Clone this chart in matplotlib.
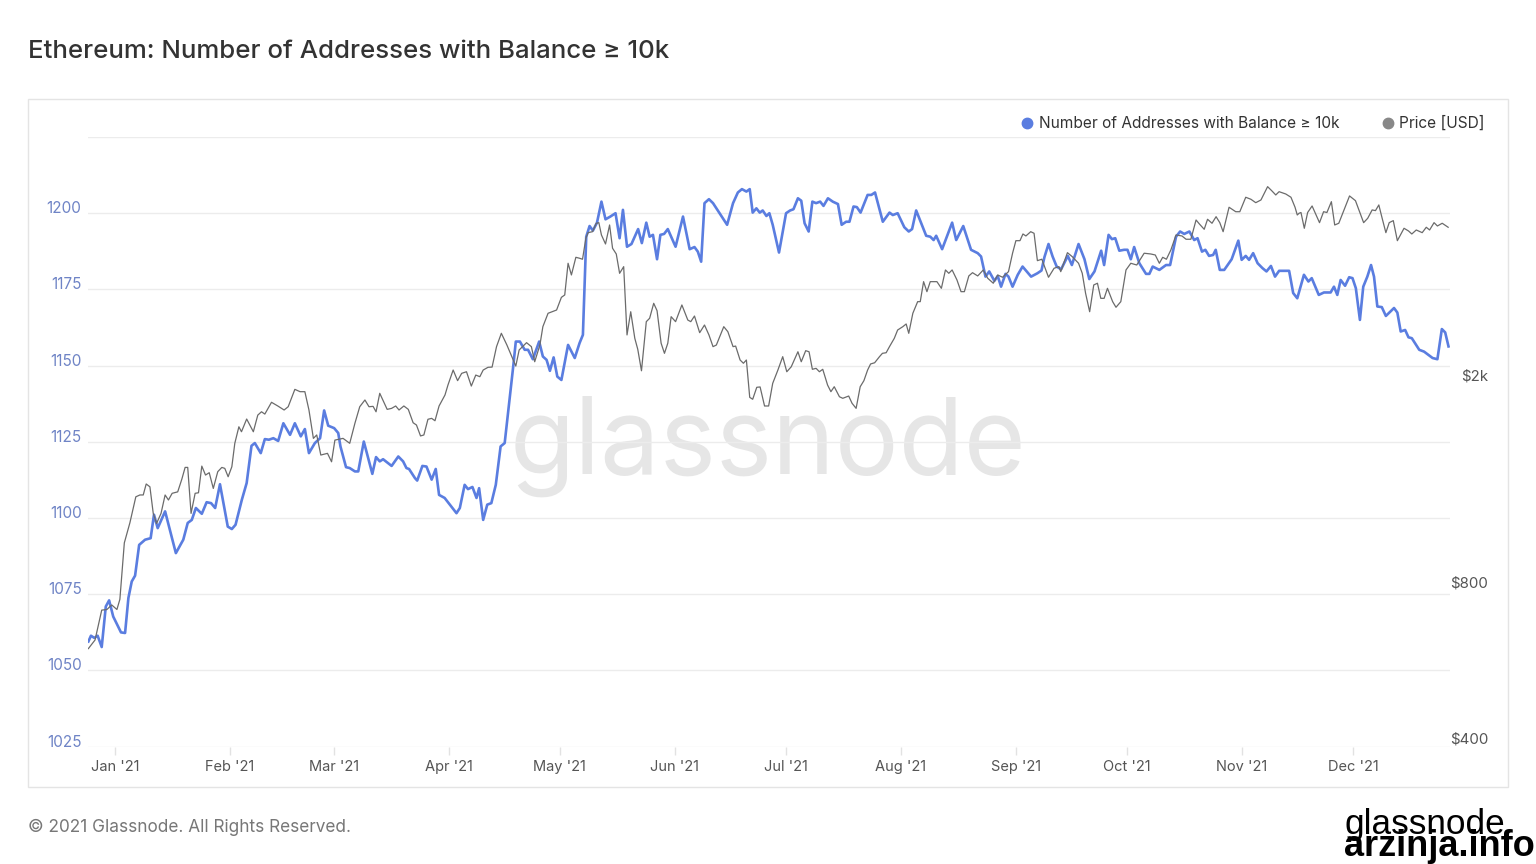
import numpy as np
import pandas as pd
import matplotlib
matplotlib.use('Agg')
import matplotlib.pyplot as plt
import matplotlib.dates as mdates
from matplotlib.lines import Line2D
from matplotlib.patches import Rectangle
from matplotlib.ticker import NullLocator

plt.rcParams['font.family'] = ['Inter', 'DejaVu Sans']

# --- data (days counted from 2021-01-01) ---
addr_days = [-7.2, -6.5, -5.6, -4.7, -3.6, -2.5, -1.6, -0.5, 1.6, 2.7, 3.6, 4.5, 5.4, 6.5, 8.1, 9.6, 10.5, 11.5, 13.5, 16.4,
             18.4, 19.6, 20.7, 21.8, 23.4, 24.7, 25.9, 27.0, 28.3, 30.4, 31.5, 32.5, 34.2, 35.5, 36.8, 37.7, 39.3, 40.4, 41.5, 42.7,
             44.0, 45.4, 47.2, 48.5, 50.1, 51.2, 52.3, 53.9, 55.3, 56.4, 57.5, 59.1,
             60.2, 60.8, 62.3, 63.3, 64.7, 65.6, 67.1, 69.4, 70.4, 71.4, 72.3, 74.6, 76.4, 77.7, 78.6, 79.3, 80.9, 81.5, 82.9, 84.0,
             85.4, 86.5, 87.4, 88.9, 92.1, 93.0, 94.3, 95.2, 96.4, 97.5, 98.2, 99.3, 100.4, 101.5, 102.7, 104.0, 105.1, 107.4, 108.1, 109.2,
             110.5, 111.4, 112.7, 114.4, 115.4, 116.4, 117.3, 118.3, 119.3, 120.4, 122.2, 124.0, 125.3,
             126.2, 127.1, 128.0, 128.9, 130.0, 131.2, 132.3, 133.6, 135.0, 136.1, 137.0, 138.1, 139.3, 141.1, 142.1, 143.3, 144.2, 145.1, 146.2, 147.1,
             148.1, 149.1, 151.2, 153.2, 155.0, 156.3, 157.2, 158.1, 159.0, 160.2, 161.3, 165.1, 166.7, 168.0, 169.1, 170.3, 171.2, 172.0, 173.0, 173.9,
             174.7, 175.7, 176.5, 177.4, 179.1, 181.0, 182.1, 183.0, 184.2, 185.1, 186.0, 187.1, 188.1, 189.1,
             190.2, 191.1, 192.3, 193.6, 195.0, 196.0, 197.2, 198.1, 199.2, 200.1, 201.1, 203.0, 204.0, 205.0, 207.1, 208.9, 209.8, 211.1, 212.9, 214.1,
             215.0, 216.1, 218.8, 219.9, 220.8, 221.5, 223.1, 225.8, 226.9, 228.8, 230.9, 232.7, 233.6, 234.8, 235.8, 237.2, 238.1, 239.0, 240.2, 241.0,
             242.1, 243.5, 244.8, 247.1, 248.8, 249.9, 250.7, 251.8, 252.9, 254.0,
             255.2, 257.0, 258.1, 259.9, 261.5, 262.8, 264.2, 266.0, 266.8, 268.0, 268.9, 269.8, 270.9, 272.2, 273.1, 274.0, 274.9, 276.3, 278.1, 279.0,
             279.9, 281.7, 283.5, 284.6, 286.2, 287.3, 288.4, 289.8, 291.1, 292.0, 293.2, 294.1, 295.1, 296.2, 296.9, 298.0, 299.2, 301.2, 303.0, 303.9,
             305.0, 305.9, 307.0, 308.2, 309.5, 310.6, 311.8, 312.9, 314.0, 316.7,
             317.8, 318.9, 320.7, 321.9, 322.8, 324.7, 326.1, 327.9, 328.8, 329.7, 330.6, 331.8, 332.9, 333.8, 334.7, 335.8, 336.7, 337.8, 338.8, 339.6,
             340.5, 341.7, 342.8, 345.0, 345.9, 346.8, 348.0, 348.9, 349.8, 351.8, 353.1, 355.4, 356.7, 357.9, 358.8, 359.7]
addr_count = [1059.5, 1061.4, 1060.7, 1061.4, 1057.7, 1071.0, 1073.0, 1067.7, 1062.5, 1062.3, 1073.8, 1079.2, 1081.1, 1091.2, 1092.9, 1093.4, 1101.1, 1096.7, 1102.2, 1088.5,
              1092.9, 1098.4, 1099.4, 1103.3, 1101.4, 1105.2, 1104.9, 1103.3, 1111.1, 1097.2, 1096.4, 1097.8, 1106.0, 1111.5, 1123.7, 1124.6, 1121.3, 1125.9, 1125.7, 1126.2,
              1125.3, 1131.1, 1127.3, 1131.1, 1126.8, 1129.2, 1121.3, 1124.6, 1126.2, 1135.3, 1130.3, 1129.5,
              1127.9, 1123.5, 1116.7, 1116.4, 1115.3, 1115.3, 1125.1, 1114.5, 1120.0, 1118.6, 1119.3, 1117.1, 1120.2, 1118.6, 1116.4, 1116.1, 1113.1, 1112.3, 1117.1, 1116.9,
              1112.6, 1116.1, 1107.6, 1106.6, 1101.6, 1103.3, 1110.9, 1109.5, 1110.2, 1106.6, 1109.8, 1099.4, 1104.4, 1104.9, 1110.9, 1123.5, 1124.6, 1149.7, 1157.9, 1157.9,
              1155.2, 1155.2, 1152.1, 1157.9, 1153.0, 1151.9, 1148.3, 1152.7, 1146.4, 1145.3, 1156.8, 1152.5, 1157.4,
              1160.1, 1192.3, 1195.8, 1194.3, 1196.9, 1203.8, 1198.0, 1198.9, 1200.0, 1191.8, 1201.1, 1189.0, 1189.9, 1194.8, 1190.2, 1196.9, 1192.3, 1192.9, 1184.9, 1192.9,
              1193.2, 1194.8, 1189.0, 1198.9, 1188.2, 1188.9, 1187.4, 1184.1, 1203.3, 1204.6, 1203.3, 1196.2, 1203.3, 1206.8, 1207.9, 1207.1, 1207.9, 1200.2, 1201.6, 1200.2,
              1200.9, 1199.1, 1200.0, 1196.2, 1187.1, 1200.0, 1200.9, 1201.3, 1204.9, 1204.1, 1196.7, 1194.0, 1203.8, 1203.3,
              1203.8, 1202.4, 1204.9, 1203.8, 1203.0, 1196.2, 1197.2, 1197.2, 1202.2, 1202.0, 1200.2, 1206.0, 1206.0, 1206.8, 1197.2, 1200.2, 1199.4, 1200.0, 1195.4, 1194.0,
              1194.8, 1200.9, 1192.6, 1192.3, 1191.2, 1192.6, 1188.2, 1196.9, 1191.2, 1195.8, 1188.0, 1186.9, 1185.8, 1179.2, 1180.9, 1177.8, 1179.4, 1175.9, 1180.1, 1179.2,
              1175.9, 1179.8, 1182.5, 1179.2, 1180.3, 1181.2, 1185.6, 1189.9, 1185.8, 1182.5,
              1181.6, 1186.0, 1183.0, 1189.9, 1184.9, 1178.4, 1180.9, 1187.7, 1183.0, 1192.9, 1191.5, 1191.8, 1187.7, 1188.0, 1188.0, 1184.9, 1188.9, 1183.6, 1180.1, 1180.1,
              1182.5, 1181.4, 1183.0, 1183.0, 1192.3, 1194.0, 1193.2, 1194.0, 1191.2, 1191.8, 1187.4, 1188.0, 1186.0, 1186.3, 1188.0, 1181.4, 1181.4, 1184.9, 1191.0, 1184.7,
              1186.0, 1184.7, 1186.9, 1183.6, 1182.0, 1180.9, 1182.7, 1179.2, 1181.1, 1181.1,
              1173.8, 1172.1, 1179.8, 1177.6, 1178.7, 1173.2, 1174.0, 1174.0, 1175.9, 1173.2, 1178.1, 1176.2, 1179.0, 1178.7, 1175.4, 1165.0, 1175.9, 1179.2, 1183.0, 1179.2,
              1169.4, 1169.2, 1166.3, 1168.9, 1167.4, 1161.2, 1161.7, 1159.3, 1159.0, 1155.2, 1154.6, 1152.5, 1152.1, 1162.0, 1160.9, 1156.3]

price_days = [-7.2, -5.4, -3.6, -2.2, -0.9, 0.5, 1.3, 2.5, 4.0, 5.6, 6.7, 7.6, 8.4, 9.4, 10.3, 11.2, 12.4, 13.5, 14.4, 15.4,
              16.9, 18.0, 18.9, 19.6, 20.5, 21.6, 22.5, 23.4, 24.4, 25.4, 26.5, 27.7, 28.8, 29.6, 30.5, 31.5, 32.3, 33.4, 34.1, 35.5,
              37.3, 38.5, 39.5, 40.4, 42.2, 43.9, 45.6, 46.7, 48.5, 49.9, 51.2, 52.3, 53.5, 54.4, 55.5, 57.3, 58.4, 59.3,
              61.5, 63.3, 64.7, 66.0, 67.4, 68.5, 69.6, 70.4, 71.4, 73.4, 74.6, 75.7, 76.6, 77.9, 79.1, 80.4, 81.3, 82.4, 83.3, 84.4,
              85.4, 86.3, 87.4, 89.0, 89.8, 91.2, 92.4, 93.5, 94.8, 96.1, 97.3, 98.4, 99.3, 100.6, 101.7, 102.9, 104.2, 105.7, 108.1, 109.0,
              111.0, 112.3, 113.2, 114.6, 115.4, 116.8, 119.1, 120.4, 121.3, 122.2, 123.1, 124.3, 125.3,
              126.1, 127.0, 127.6, 128.8, 129.8, 130.5, 131.2, 132.3, 133.4, 134.2, 135.2, 136.1, 137.2, 138.1, 139.1, 140.2, 141.0, 142.0, 143.3, 144.2,
              145.3, 146.2, 147.3, 148.2, 149.1, 150.0, 151.2, 152.9, 154.5, 155.3, 156.3, 157.7, 159.0, 160.2, 161.3, 162.2, 164.2, 165.3, 166.7, 167.4,
              168.6, 169.5, 170.3, 171.2, 172.0, 173.1, 174.0, 175.2, 176.3, 177.4, 178.8, 180.1, 181.2, 182.4, 184.2, 185.1, 186.3, 187.2, 188.1, 189.1,
              190.0,
              190.9, 192.2, 193.1, 194.0, 195.4, 196.3, 197.9, 198.8, 199.9, 201.0, 202.0, 203.0, 203.8, 204.9, 206.2, 207.0, 208.0, 208.9, 210.2, 211.1,
              212.5, 213.4, 214.1, 215.2, 216.5, 217.2, 218.1, 219.0, 219.9, 221.7, 222.9, 224.0, 224.9, 225.8, 227.1, 228.2, 229.1, 230.3, 231.3, 232.7,
              234.2, 235.4, 236.9, 238.1, 239.4, 241.0, 242.1, 243.0, 244.1, 244.9, 245.7, 247.0, 247.9, 248.8, 250.0, 251.8, 253.3, 254.6,
              255.1, 256.9, 258.2, 259.9, 260.9, 261.8, 262.9, 264.0, 265.0, 265.9, 266.8, 267.7, 269.1, 270.0, 271.3, 272.7, 274.0, 275.6, 277.6, 279.4,
              280.6, 281.7, 282.6, 283.6, 284.8, 286.2, 287.8, 288.9, 290.2, 291.6, 292.5, 293.8, 294.7, 295.9, 297.0, 298.0, 298.9, 300.5, 302.3, 303.4,
              305.0, 306.4, 307.7, 309.1, 310.9, 312.0, 313.1, 314.0, 315.8, 317.2, 318.3, 318.9, 319.4,
              319.9, 320.8, 321.7, 322.9, 324.9, 326.0, 326.9, 328.1, 329.0, 330.1, 333.0, 334.6, 336.8, 337.9, 339.1, 340.0, 340.9, 341.8, 342.8, 343.7,
              344.8, 345.9, 347.7, 348.9, 349.8, 351.0, 352.6, 353.7, 354.6, 355.8, 356.7, 358.0, 359.6]
price_usd = [617, 641, 732, 734, 749, 734, 768, 987, 1079, 1211, 1221, 1221, 1282, 1266, 1125, 1076, 1125, 1221, 1194, 1230,
             1238, 1309, 1380, 1380, 1125, 1230, 1233, 1388, 1334, 1348, 1257, 1354, 1380, 1374, 1324, 1384, 1536, 1653, 1617, 1711,
             1617, 1741, 1767, 1749, 1843, 1813, 1781, 1807, 1952, 1932, 1932, 1781, 1570, 1594, 1458, 1469, 1415, 1558,
             1570, 1536, 1679, 1807, 1862, 1807, 1810, 1767, 1918, 1786, 1794, 1813, 1781, 1813, 1786, 1683, 1666, 1587, 1594, 1709,
             1716, 1698, 1813, 1904, 1990, 2127, 2029, 2096, 2111, 1981, 2080, 2065, 2127, 2153, 2155, 2360, 2504, 2377, 2165, 2325,
             2402, 2360, 2207, 2377, 2579, 2737, 2777, 2938, 2969, 3418, 3245, 3510, 3495,
             3480, 3820, 3916, 3933, 4083, 4094, 3876, 3724, 4052, 3654, 3562, 3269, 3367, 2486, 2756, 2449, 2332, 2120, 2637, 2677,
             2861, 2769, 2396, 2291, 2396, 2696, 2637, 2840, 2656, 2637, 2704, 2511, 2598, 2486, 2360, 2377, 2579, 2522, 2360, 2366,
             2224, 2192, 2224, 1884, 1868, 1970, 1973, 1813, 1813, 2005, 2127, 2257, 2111, 2158, 2307, 2207, 2318, 2307, 2134, 2143,
             2111,
             2134, 1990, 1932, 1975, 1889, 1876, 1895, 1835, 1794, 1975, 2029, 2127, 2185, 2197, 2257, 2291, 2297, 2360, 2449, 2541,
             2579, 2610, 2504, 2737, 2882, 2882, 3150, 3013, 3150, 3150, 3058, 3318, 3269, 3318, 3174, 3013, 3013, 3231, 3278, 3231,
             3318, 3198, 3128, 3245, 3212, 3293, 3574, 3779, 3779, 3893, 3859, 3933, 3905, 3458, 3480, 3212, 3343, 3367,
             3293, 3583, 3520, 3418, 3269, 2991, 2756, 3104, 3128, 2925, 2925, 3058, 2882, 2811, 2882, 3318, 3418, 3392, 3574, 3562,
             3546, 3418, 3510, 3480, 3626, 3876, 3859, 3803, 3803, 4143, 4070, 3975, 4156, 4083, 4204, 4094, 3933, 4384, 4298, 4298,
             4583, 4542, 4474, 4528, 4804, 4719, 4630, 4698, 4650, 4583, 4384, 4236, 4269,
             4283, 3993, 4283, 4409, 4094, 4298, 4283, 4494, 4052, 4083, 4610, 4514, 4094, 4174, 4332, 4319, 4429, 4174, 3916, 4094,
             4131, 3779, 3993, 3946, 3893, 3963, 3916, 4011, 3963, 4094, 4034, 4083, 4011]

left_ticks = [1025, 1050, 1075, 1100, 1125, 1150, 1175, 1200, 1225]
left_labels = ['1025', '1050', '1075', '1100', '1125', '1150', '1175', '1200', '']
right_ticks = [400, 800, 2000]
right_labels = ['$400', '$800', '$2k']

title = 'Ethereum: Number of Addresses with Balance \u2265 10k'
series_names = ['Number of Addresses with Balance \u2265 10k', 'Price [USD]']

BLUE = '#5a7de0'
GREY = '#6b6b6b'

base = pd.Timestamp('2021-01-01')
addr_dates = base + pd.to_timedelta(addr_days, unit='D')
price_dates = base + pd.to_timedelta(price_days, unit='D')

W, H = 1536, 864
fig = plt.figure(figsize=(W / 100, H / 100), dpi=100)
fig.patch.set_facecolor('white')

# panel frame
fig.add_artist(Rectangle((28 / W, 1 - 787 / H), (1508 - 28) / W, (787 - 99) / H,
                         transform=fig.transFigure, fill=False, edgecolor='#e4e4e4', lw=1))

ax = fig.add_axes([88 / W, 1 - 746.7 / H, (1450 - 88) / W, (746.7 - 137) / H])
ax2 = ax.twinx()

ax.plot(addr_dates, addr_count, color=BLUE, lw=1.9, zorder=3, solid_joinstyle='round')
ax2.plot(price_dates, price_usd, color=GREY, lw=0.9, zorder=3)

ax.set_xlim(base + pd.Timedelta(days=-7.3), base + pd.Timedelta(days=360.1))
ax.set_ylim(1025, 1225)
ax2.set_yscale('log')
ax2.set_ylim(399, 5990)

for a in (ax, ax2):
    for s in a.spines.values():
        s.set_visible(False)

ax.set_yticks(left_ticks, left_labels)
ax.grid(axis='y', color='#ececec', lw=1)
ax.set_axisbelow(True)
ax.tick_params(axis='y', length=0, pad=4.6, labelsize=11, labelcolor='#6f84c6')
for lab in ax.get_yticklabels():
    lab.set_va('baseline')

ax2.set_yticks(right_ticks, right_labels)
ax2.yaxis.set_minor_locator(NullLocator())
ax2.tick_params(axis='y', length=0, pad=27.4, labelsize=10.8, labelcolor='#555555')
for lab in ax2.get_yticklabels():
    lab.set_ha('right')
    lab.set_va('bottom')

ax.xaxis.set_major_locator(mdates.MonthLocator())
ax.xaxis.set_major_formatter(mdates.DateFormatter("%b '%y"))
ax.tick_params(axis='x', length=6, width=1, color='#e2e2e2', pad=3.5, labelsize=10.5, labelcolor='#555555')

# watermark
ax.text(0.5, 1 - 474 / H, 'glassnode', transform=fig.transFigure, ha='center', va='baseline',
        fontsize=76.5, color='#e6e6e6', zorder=0)

# legend
fig.add_artist(Line2D([1027 / W], [1 - 123 / H], marker='o', ms=7.5, color=BLUE, ls='', transform=fig.transFigure))
fig.text(1039 / W, 1 - 123.5 / H, series_names[0], fontsize=11.1, color='#333333', va='center')
fig.add_artist(Line2D([1388 / W], [1 - 123 / H], marker='o', ms=7.5, color='#888888', ls='', transform=fig.transFigure))
fig.text(1399 / W, 1 - 123.5 / H, series_names[1], fontsize=11.1, color='#333333', va='center')

fig.text(28 / W, 1 - 51 / H, title, fontsize=18.6, color='#333333', va='center', weight='medium')
fig.text(28 / W, 1 - 827 / H, '\u00a9 2021 Glassnode. All Rights Reserved.', fontsize=12.4, color='#777777', va='center')

fig.text(1345 / W, 1 - 834 / H, 'glassnode', family=['Liberation Sans', 'DejaVu Sans'], fontsize=25.3,
         color='black', va='baseline')
fig.text(1344 / W, 1 - 856 / H, 'arzinja.info', family=['Liberation Sans', 'DejaVu Sans'], fontsize=26,
         weight='bold', color='black', va='baseline')

fig.savefig('out.png', dpi=100, facecolor='white')
